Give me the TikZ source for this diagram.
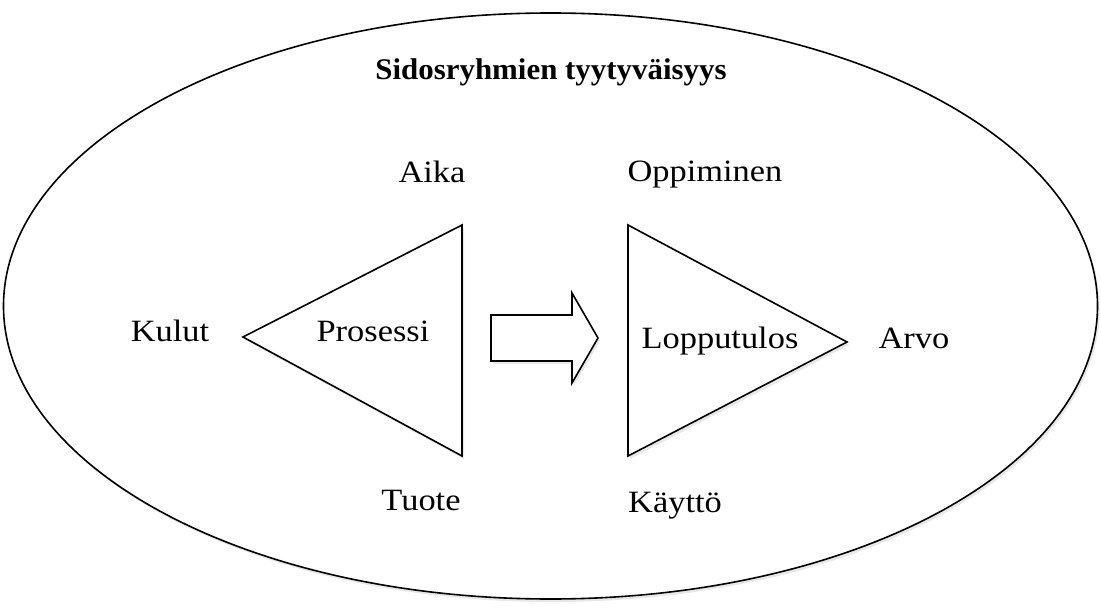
\documentclass[tikz,border=0pt]{standalone}
\usepackage{fontspec}
\setmainfont{Liberation Serif}
\newfontfamily\lblfont[FakeStretch=1.11]{Liberation Serif}
\newfontfamily\ttlfont[FakeStretch=1.03]{Liberation Serif}
\usetikzlibrary{shadows}
\begin{document}
\begin{tikzpicture}[x=1pt,y=-1pt,
  shp/.style={draw=black, line width=1.6pt, fill=white, line join=miter,
    drop shadow={opacity=0.18, shadow xshift=2pt, shadow yshift=-3pt}},
  lbl/.style={font=\lblfont\fontsize{31}{34}\selectfont, inner sep=0pt},
  ttl/.style={font=\ttlfont\fontsize{30}{34}\selectfont\bfseries, inner sep=0pt}]
\useasboundingbox (0,0) rectangle (1101,610);
% outer ellipse
\draw[shp] (550.5,306) ellipse [x radius=547, y radius=293];
\node[ttl] (title) at (551,72) {Sidosryhmien tyytyväisyys};
% left triangle
\coordinate (l1) at (243,337);
\coordinate (l2) at (462,225);
\coordinate (l3) at (462,456);
\draw[shp] (l1) -- (l2) -- (l3) -- cycle;
% right triangle
\coordinate (r1) at (628,225);
\coordinate (r2) at (847,342);
\coordinate (r3) at (628,456);
\draw[shp] (r1) -- (r2) -- (r3) -- cycle;
% block arrow
\draw[shp] (491,315) -- (572,315) -- (572,293) -- (598,338) -- (572,383) -- (572,361) -- (491,361) -- cycle;
% labels
\node[lbl] (prosessi) at (373,331) {Prosessi};
\node[lbl] (lopputulos) at (720,341) {Lopputulos};
\node[lbl] (aika) at (432,172) {Aika};
\node[lbl] (oppiminen) at (705,175) {Oppiminen};
\node[lbl] (kulut) at (170,331) {Kulut};
\node[lbl] (arvo) at (914,338) {Arvo};
\node[lbl] (tuote) at (421,500) {Tuote};
\node[lbl] (kaytto) at (675,506) {Käyttö};
\end{tikzpicture}
\end{document}
